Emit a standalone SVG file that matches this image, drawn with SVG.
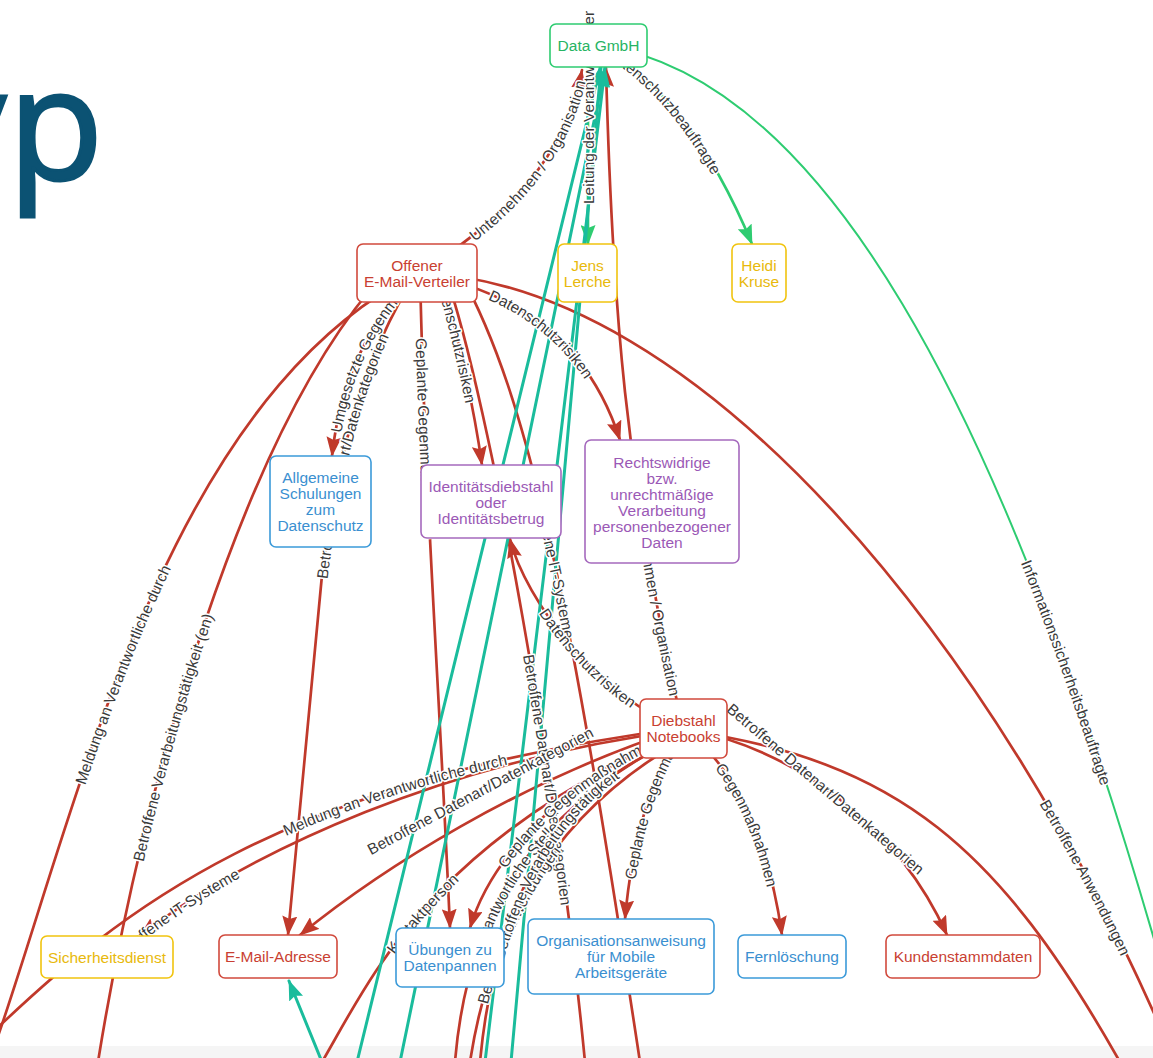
<svg xmlns="http://www.w3.org/2000/svg" xmlns:xlink="http://www.w3.org/1999/xlink" width="1153" height="1058" viewBox="0 0 1153 1058">
<style>
.e{fill:none;stroke-linecap:round}
.r{stroke:#c0392b;stroke-width:2.7}
.t{stroke:#1abc9c;stroke-width:3}
.g{stroke:#2ecc71;stroke-width:2.6}
.g2{stroke:#2ecc71;stroke-width:2}
.lbl{font-family:"Liberation Sans",Arial,sans-serif;font-size:15.5px;fill:#3a3a3a;stroke:#fff;stroke-width:3px;paint-order:stroke;stroke-linejoin:round;dominant-baseline:central}
.node rect{fill:#fff;stroke-width:1.6}
.node text{font-family:"Liberation Sans",Arial,sans-serif;font-size:15.5px;text-anchor:middle}
.red rect{stroke:#d14a3d}.red text{fill:#c93f32}
.blue rect{stroke:#3b9ad9}.blue text{fill:#3a8fd0}
.purple rect{stroke:#a569bd}.purple text{fill:#9b59b6}
.yellow rect{stroke:#f1c40f}.yellow text{fill:#e8b90c}
.green rect{stroke:#2ecc71}.green text{fill:#27b463}
</style>
<defs>
<marker id="mr" viewBox="0 0 20 15" refX="19" refY="7.5" markerWidth="20" markerHeight="15" markerUnits="userSpaceOnUse" orient="auto-start-reverse"><path d="M0,0 L20,7.5 L0,15 L3,7.5 z" fill="#c0392b"/></marker>
<marker id="mg" viewBox="0 0 20 15" refX="19" refY="7.5" markerWidth="20" markerHeight="15" markerUnits="userSpaceOnUse" orient="auto-start-reverse"><path d="M0,0 L20,7.5 L0,15 L3,7.5 z" fill="#2ecc71"/></marker>
<marker id="mt" viewBox="0 0 20 15" refX="19" refY="7.5" markerWidth="20" markerHeight="15" markerUnits="userSpaceOnUse" orient="auto-start-reverse"><path d="M0,0 L20,7.5 L0,15 L3,7.5 z" fill="#1abc9c"/></marker>
<path id="lp-g1" d="M588,244 L588,-80"/>
<path id="lp-r12" d="M340,865 L640,705"/>
<path id="lp-r13" d="M90,969 L140,936 C250,850 450,760 683,730"/>
<path id="lp-r24" d="M712,691 L940,886"/>
</defs>
<rect x="0" y="0" width="1153" height="1058" fill="#fff"/>
<rect x="0" y="1046" width="1153" height="12" fill="#f5f5f5"/>
<text x="-72" y="180" font-family="Open Sans, sans-serif" font-size="156" fill="#0b5273" stroke="#0b5273" stroke-width="3">y<tspan x="8">p</tspan></text>

<g id="connectors">
<path id="g1" class="e g" d="M588,244 L588,46" marker-start="url(#mg)"/>
<path id="g2" class="e g" d="M598,45 Q690,95 752,244" marker-end="url(#mg)"/>
<path id="g3" class="e g2" d="M598,45 C820,75 1000,400 1160,960"/>
<path id="r1" class="e r" d="M417,273 Q560,190 582,70" marker-end="url(#mr)"/>
<path id="r2" class="e r" d="M606,68 C612,300 625,480 683,728" marker-start="url(#mr)"/>
<path id="r3" class="e r" d="M417,273 Q575,300 620,440" marker-end="url(#mr)"/>
<path id="r4" class="e r" d="M417,273 C700,280 1000,650 1170,1050"/>
<path id="r5" class="e r" d="M332,456 C340,380 370,320 417,273" marker-start="url(#mr)"/>
<path id="r6" class="e r" d="M288,935 L322,575 C335,470 360,360 417,273" marker-start="url(#mr)"/>
<path id="r7" class="e r" d="M420,273 C425,500 440,700 450,928" marker-end="url(#mr)"/>
<path id="r8" class="e r" d="M440,273 Q470,380 482,465" marker-end="url(#mr)"/>
<path id="r9" class="e r" d="M445,273 C490,400 560,800 585,1062"/>
<path id="r10" class="e r" d="M460,273 C530,400 570,600 640,1062"/>
<path id="r11" class="e r" d="M510,539 C525,600 600,700 683,728" marker-start="url(#mr)"/>
<path id="r12" class="e r" d="M300,935 C380,870 520,780 683,728" marker-start="url(#mr)"/>
<path id="r13" class="e r" d="M140,936 C250,850 450,760 683,730" marker-start="url(#mr)"/>
<path id="r14" class="e r" d="M-10,1035 C120,910 280,780 683,728"/>
<path id="r15" class="e r" d="M-5,1045 C80,800 165,400 417,273"/>
<path id="r16" class="e r" d="M98,1062 C145,770 245,440 370,290"/>
<path id="r17" class="e r" d="M470,928 C490,860 560,780 683,728" marker-start="url(#mr)"/>
<path id="r18" class="e r" d="M322,1062 C370,980 430,840 683,732"/>
<path id="r19" class="e r" d="M455,1062 C465,940 510,820 683,735"/>
<path id="r20" class="e r" d="M470,1062 C488,945 540,820 683,740"/>
<path id="r21" class="e r" d="M480,1062 C495,900 560,780 683,740"/>
<path id="r22" class="e r" d="M625,919 C632,840 650,780 683,728" marker-start="url(#mr)"/>
<path id="r23" class="e r" d="M683,728 C740,770 770,850 782,935" marker-end="url(#mr)"/>
<path id="r24" class="e r" d="M683,728 C800,750 900,830 947,935" marker-end="url(#mr)"/>
<path id="r25" class="e r" d="M683,730 C900,760 1000,850 1120,1062"/>
<path id="t1" class="e t" d="M357,1062 L600,68" marker-end="url(#mt)"/>
<path id="t2" class="e t" d="M400,1062 L605,68" marker-end="url(#mt)"/>
<path id="t3" class="e t" d="M485,1062 L605,68" marker-end="url(#mt)"/>
<path id="t4" class="e t" d="M511,1062 L601,68" marker-end="url(#mt)"/>
<path id="t5" class="e t" d="M322,1062 L289,981" marker-end="url(#mt)"/>
</g>

<g id="connector-labels">
<text class="lbl"><textPath href="#lp-g1" startOffset="40">Leitung der Verantwortlicher</textPath></text>
<text class="lbl" text-anchor="middle"><textPath href="#g2" startOffset="37%">Datenschutzbeauftragte</textPath></text>
<text class="lbl" text-anchor="middle"><textPath href="#g3" startOffset="73%">Informationssicherheitsbeauftragte</textPath></text>
<text class="lbl" text-anchor="middle"><textPath href="#r1" startOffset="60%">Unternehmen / Organisation</textPath></text>
<text class="lbl" text-anchor="end"><textPath href="#r2" startOffset="95%">Unternehmen / Organisation</textPath></text>
<text class="lbl" text-anchor="middle"><textPath href="#r3" startOffset="51%">Datenschutzrisiken</textPath></text>
<text class="lbl" text-anchor="middle"><textPath href="#r4" startOffset="83%">Betroffene Anwendungen</textPath></text>
<text class="lbl"><textPath href="#r5" startOffset="24">Umgesetzte Gegenmaßnahmen</textPath></text>
<text class="lbl"><textPath href="#r6" startOffset="358">Betroffene Datenart/Datenkategorien</textPath></text>
<text class="lbl"><textPath href="#r7" startOffset="65">Geplante Gegenmaßnahmen</textPath></text>
<text class="lbl"><textPath href="#r8" startOffset="2">Datenschutzrisiken</textPath></text>
<text class="lbl"><textPath href="#r9" startOffset="391">Betroffene Datenart/Datenkategorien</textPath></text>
<text class="lbl" text-anchor="end"><textPath href="#r10" startOffset="383">Betroffene IT-Systeme</textPath></text>
<text class="lbl" text-anchor="end"><textPath href="#r11" startOffset="210">Datenschutzrisiken</textPath></text>
<text class="lbl"><textPath href="#lp-r12" startOffset="32">Betroffene Datenart/Datenkategorien</textPath></text>
<text class="lbl" text-anchor="end"><textPath href="#lp-r13" startOffset="177">Betroffene IT-Systeme</textPath></text>
<text class="lbl"><textPath href="#r14" startOffset="360">Meldung an Verantwortliche durch</textPath></text>
<text class="lbl" text-anchor="middle"><textPath href="#r15" startOffset="392">Meldung an Verantwortliche durch</textPath></text>
<text class="lbl"><textPath href="#r16" startOffset="205">Betroffene Verarbeitungstätigkeit (en)</textPath></text>
<text class="lbl"><textPath href="#r18" startOffset="130">Kontaktperson</textPath></text>
<text class="lbl"><textPath href="#r19" startOffset="115">Verantwortliche Stelle</textPath></text>
<text class="lbl"><textPath href="#r20" startOffset="60">Betroffene Anwendungen</textPath></text>
<text class="lbl" text-anchor="end"><textPath href="#r21" startOffset="330">Betroffene Verarbeitungstätigkeit</textPath></text>
<text class="lbl"><textPath href="#r17" startOffset="70">Geplante Gegenmaßnahmen</textPath></text>
<text class="lbl"><textPath href="#r22" startOffset="40">Geplante Gegenmaßnahmen</textPath></text>
<text class="lbl"><textPath href="#r23" startOffset="52">Gegenmaßnahmen</textPath></text>
<text class="lbl" text-anchor="middle"><textPath href="#lp-r24" startOffset="50%">Betroffene Datenart/Datenkategorien</textPath></text>
</g>

<g id="node-data-gmbh" class="node green"><rect x="550" y="24" width="97" height="43" rx="6"/><text x="598.5" y="51">Data GmbH</text></g>
<g id="node-offener" class="node red"><rect x="357" y="244" width="120" height="58" rx="6"/><text x="417" y="270.5">Offener</text><text x="417" y="286.5">E-Mail-Verteiler</text></g>
<g id="node-jens" class="node yellow"><rect x="558" y="244" width="59" height="58" rx="6"/><text x="587.5" y="270.5">Jens</text><text x="587.5" y="286.5">Lerche</text></g>
<g id="node-heidi" class="node yellow"><rect x="732" y="244" width="54" height="58" rx="6"/><text x="759" y="270.5">Heidi</text><text x="759" y="286.5">Kruse</text></g>
<g id="node-schulungen" class="node blue"><rect x="270" y="456" width="101" height="91" rx="6"/><text x="320.5" y="483">Allgemeine</text><text x="320.5" y="499">Schulungen</text><text x="320.5" y="515">zum</text><text x="320.5" y="531">Datenschutz</text></g>
<g id="node-identitaet" class="node purple"><rect x="421" y="465" width="140" height="73" rx="6"/><text x="491" y="491.5">Identitätsdiebstahl</text><text x="491" y="507.5">oder</text><text x="491" y="523.5">Identitätsbetrug</text></g>
<g id="node-rechtswidrig" class="node purple"><rect x="585" y="440" width="154" height="123" rx="6"/><text x="662" y="467.5">Rechtswidrige</text><text x="662" y="483.5">bzw.</text><text x="662" y="499.5">unrechtmäßige</text><text x="662" y="515.5">Verarbeitung</text><text x="662" y="531.5">personenbezogener</text><text x="662" y="547.5">Daten</text></g>
<g id="node-diebstahl" class="node red"><rect x="640" y="699" width="87" height="59" rx="6"/><text x="683.5" y="726">Diebstahl</text><text x="683.5" y="742">Notebooks</text></g>
<g id="node-sicherheitsdienst" class="node yellow"><rect x="41" y="936" width="132" height="42" rx="6"/><text x="107" y="962.5">Sicherheitsdienst</text></g>
<g id="node-email" class="node red"><rect x="219" y="935" width="118" height="43" rx="6"/><text x="278" y="962">E-Mail-Adresse</text></g>
<g id="node-uebungen" class="node blue"><rect x="396" y="928" width="108" height="59" rx="6"/><text x="450" y="955">Übungen zu</text><text x="450" y="971">Datenpannen</text></g>
<g id="node-organisation" class="node blue"><rect x="528" y="919" width="186" height="75" rx="6"/><text x="621" y="946">Organisationsanweisung</text><text x="621" y="962">für Mobile</text><text x="621" y="978">Arbeitsgeräte</text></g>
<g id="node-fernloeschung" class="node blue"><rect x="738" y="935" width="108" height="43" rx="6"/><text x="792" y="962">Fernlöschung</text></g>
<g id="node-kunden" class="node red"><rect x="886" y="935" width="154" height="43" rx="6"/><text x="963" y="962">Kundenstammdaten</text></g>
</svg>
